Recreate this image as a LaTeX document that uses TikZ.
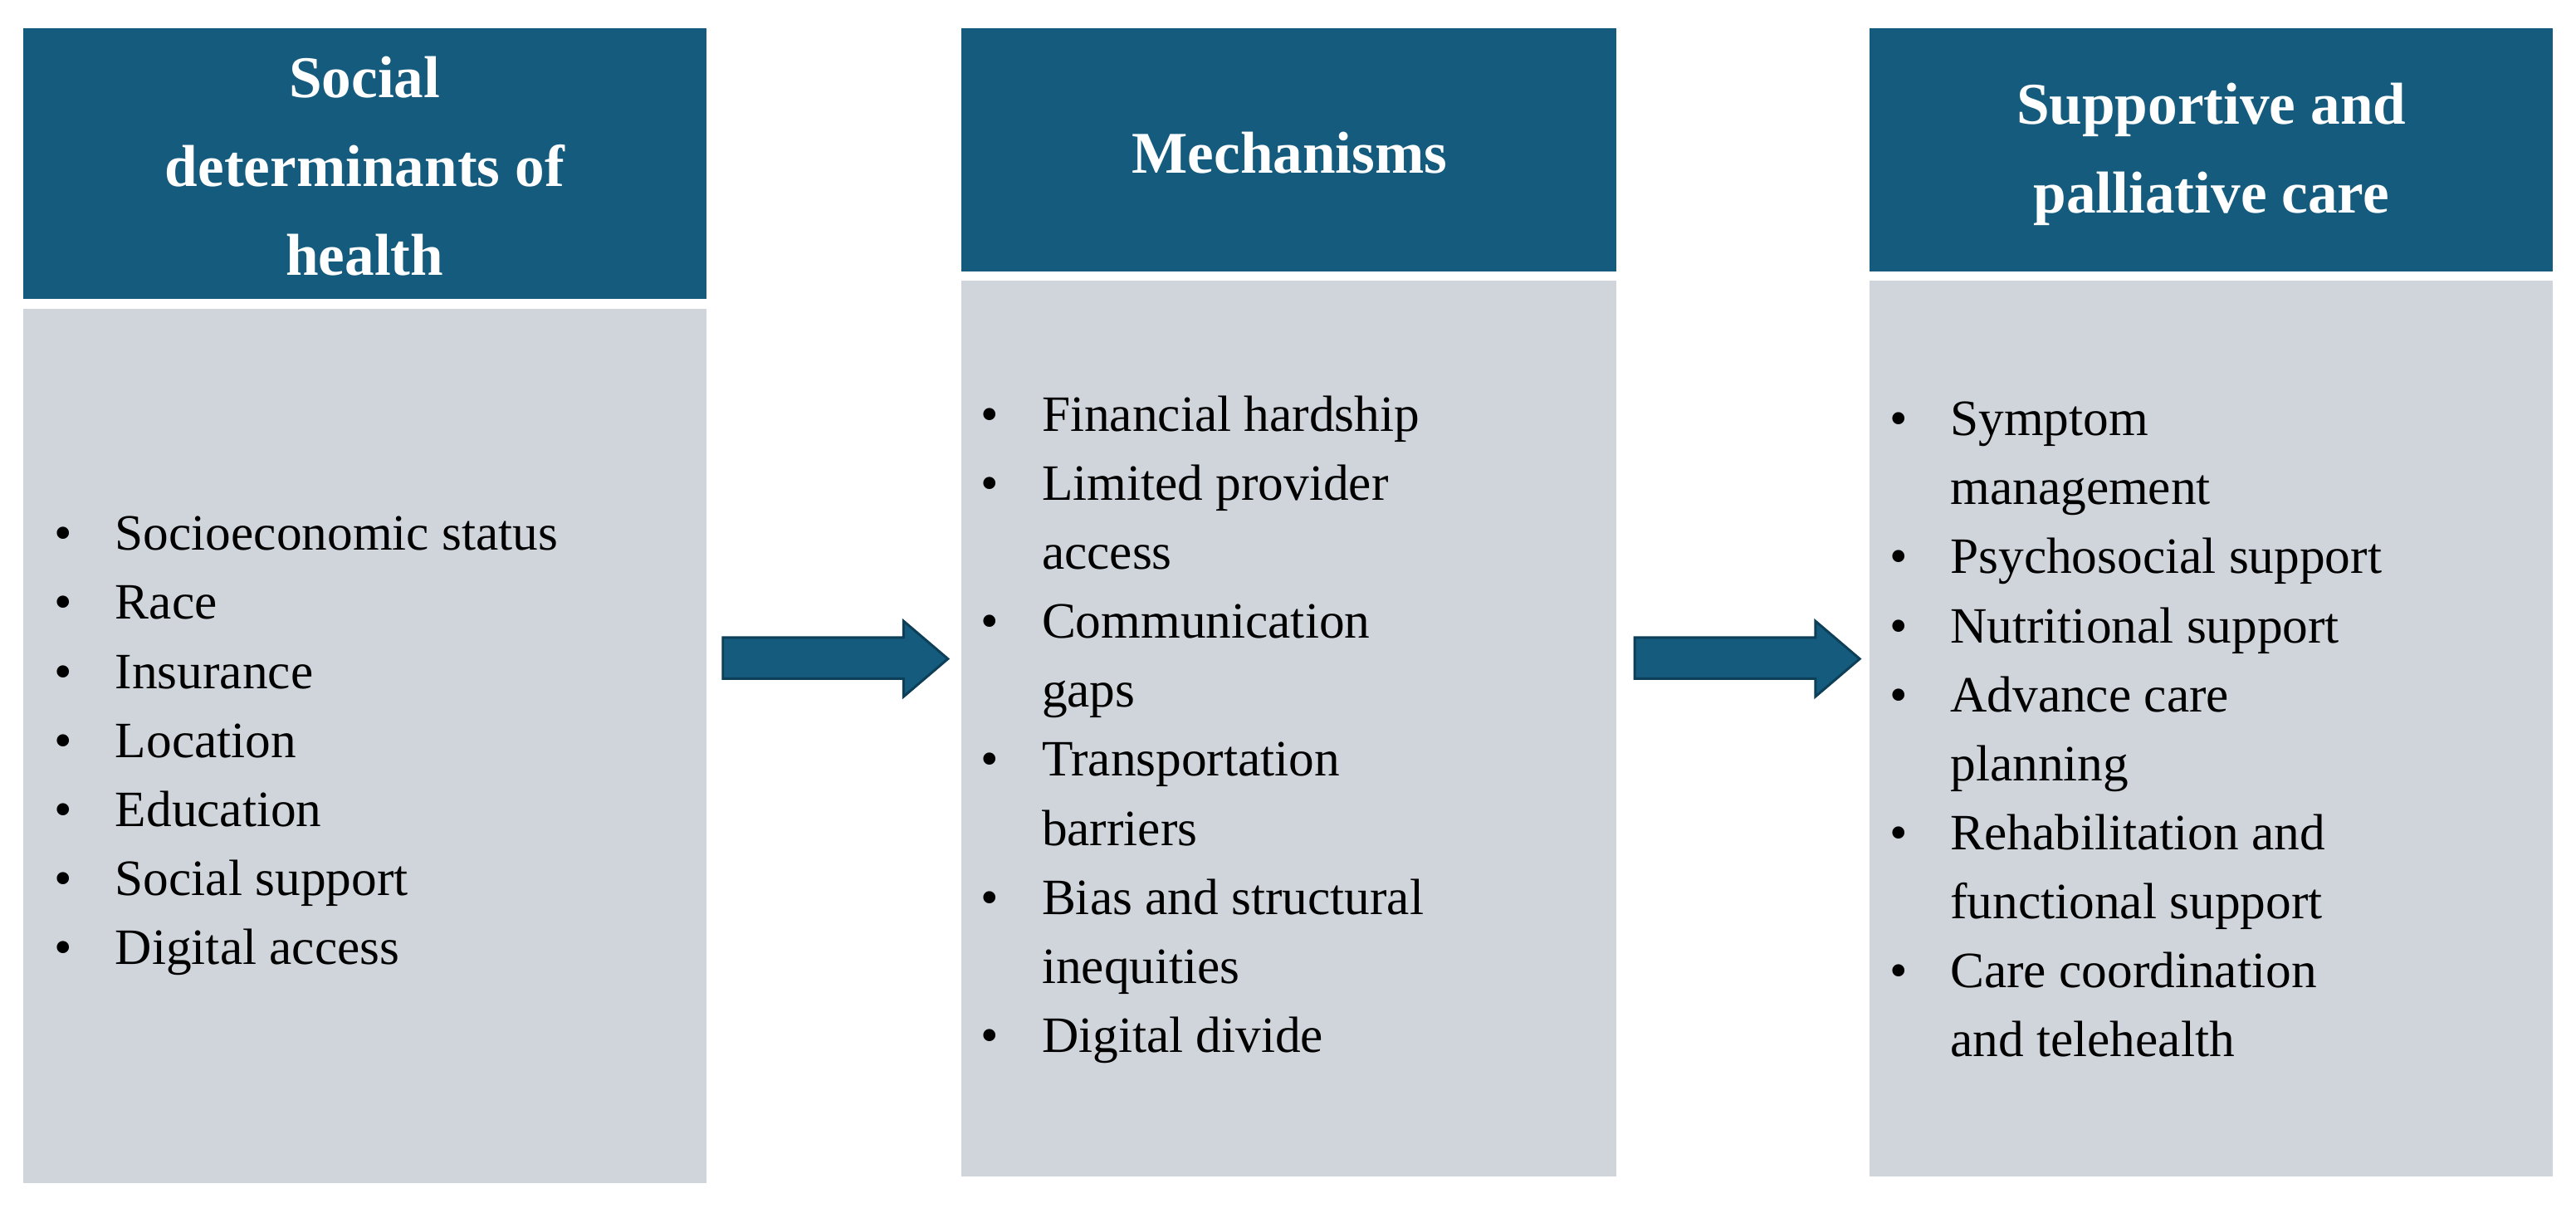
\documentclass[tikz,border=0pt]{standalone}
\usepackage{fontspec}
\setmainfont{Liberation Serif}
\definecolor{hdr}{HTML}{155B7D}
\definecolor{bdy}{HTML}{D0D5DC}
\definecolor{arrline}{HTML}{0E3F58}
\newcommand{\itm}[1]{\makebox[37pt][l]{\textbullet}#1}
\newcommand{\cnt}[1]{\hspace*{37pt}#1}
\begin{document}
\begin{tikzpicture}[x=1pt,y=-1pt,
  hd/.style={fill=hdr,draw=none},
  bd/.style={fill=bdy,draw=none},
  ttl/.style={text=white,font=\fontsize{36}{54}\selectfont\bfseries,align=center},
  lst/.style={anchor=west,align=left,inner sep=0pt,font=\fontsize{31}{42}\selectfont},
  arr/.style={fill=hdr,draw=arrline,line width=1.5pt}]
\useasboundingbox (0,0) rectangle (1568,735);
% left
\fill[hd] (14,17) rectangle (430,182);
\fill[bd] (14,188) rectangle (430,720);
\node[ttl] (t1) at (222,101) {Social\\determinants of\\health};
\node[lst] (l1) at (33,454) {\itm{Socioeconomic status}\\\itm{Race}\\\itm{Insurance}\\\itm{Location}\\\itm{Education}\\\itm{Social support}\\\itm{Digital access}};
% middle
\fill[hd] (585,17) rectangle (984,165);
\fill[bd] (585,171) rectangle (984,716);
\node[ttl] (t2) at (785,93) {Mechanisms};
\node[lst] (l2) at (597,444) {\itm{Financial hardship}\\\itm{Limited provider}\\\cnt{access}\\\itm{Communication}\\\cnt{gaps}\\\itm{Transportation}\\\cnt{barriers}\\\itm{Bias and structural}\\\cnt{inequities}\\\itm{Digital divide}};
% right
\fill[hd] (1138,17) rectangle (1554,165);
\fill[bd] (1138,171) rectangle (1554,716);
\node[ttl] (t3) at (1346,94) {Supportive and\\palliative care};
\node[lst] (l3) at (1150,444) {\itm{Symptom}\\\cnt{management}\\\itm{Psychosocial support}\\\itm{Nutritional support}\\\itm{Advance care}\\\cnt{planning}\\\itm{Rehabilitation and}\\\cnt{functional support}\\\itm{Care coordination}\\\cnt{and telehealth}};
% arrows
\draw[arr] (440,388) -- (550,388) -- (550,378) -- (577,401) -- (550,424) -- (550,413) -- (440,413) -- cycle;
\draw[arr] (995,388) -- (1105,388) -- (1105,378) -- (1132,401) -- (1105,424) -- (1105,413) -- (995,413) -- cycle;
\end{tikzpicture}
\end{document}
